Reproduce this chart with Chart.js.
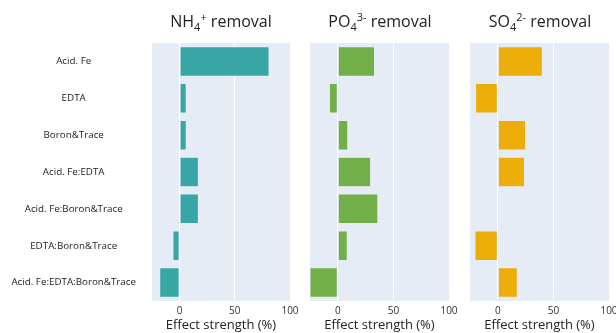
<!DOCTYPE html>
<html>
<head>
<meta charset="utf-8">
<script src="https://cdn.jsdelivr.net/npm/chart.js@4/dist/chart.umd.min.js"></script>
<style>
  body { margin: 0; width: 616px; height: 333px; overflow: hidden; background: #fff; position: relative; font-family: "Open Sans", sans-serif; }
  .panel { position: absolute; top: 0; }
  .title { position: absolute; top: 10px; font-size: 16px; color: #222; text-align: center; white-space: nowrap; transform: translateX(-50%); }
  .title sub, .title sup { font-size: 11px; line-height: 0; }
</style>
</head>
<body>
<div class="panel" style="left:0px"><canvas id="chart-nh4" width="300" height="345"></canvas></div>
<div class="panel" style="left:300px"><canvas id="chart-po4" width="160" height="345"></canvas></div>
<div class="panel" style="left:460px"><canvas id="chart-so4" width="170" height="345"></canvas></div>
<div class="title" style="left:221px">NH<sub>4</sub><sup>+</sup> removal</div>
<div class="title" style="left:380px">PO<sub>4</sub><sup>3-</sup> removal</div>
<div class="title" style="left:540px">SO<sub>4</sub><sup>2-</sup> removal</div>
<script>
const factors = ['Acid. Fe', 'EDTA', 'Boron&Trace', 'Acid. Fe:EDTA', 'Acid. Fe:Boron&Trace', 'EDTA:Boron&Trace', 'Acid. Fe:EDTA:Boron&Trace']
const nh4Effect = [81, 6, 6, 17, 17, -6, -18]
const po4Effect = [33, -7.5, 9, 29.5, 36, 8.5, -25]
const so4Effect = [40, -20, 25, 24, 1, -20.5, 17.5]
const xTicks = [0, 50, 100]
const xMin = -25
const xMax = 100
const axisTitle = 'Effect strength (%)'

const plotBg = {
    id: 'plotBg',
    beforeDraw(chart) {
        const { ctx, chartArea } = chart
        ctx.save()
        ctx.fillStyle = '#E5ECF6'
        ctx.fillRect(chartArea.left, chartArea.top, chartArea.right - chartArea.left, chartArea.bottom - chartArea.top)
        ctx.restore()
    }
}

function makePanel(id, values, color, showLabels, padLeft, padRight) {
    const ctx = document.getElementById(id).getContext('2d')
    return new Chart(ctx, {
        type: 'bar',
        data: {
            labels: factors,
            datasets: [{
                data: values,
                backgroundColor: color,
                borderColor: '#E5ECF6',
                borderWidth: 0.5,
                borderSkipped: false,
                barPercentage: 0.8,
                categoryPercentage: 1
            }]
        },
        options: {
            indexAxis: 'y',
            responsive: false,
            animation: false,
            layout: { padding: { top: 43, left: padLeft, right: padRight, bottom: 0 } },
            plugins: { legend: { display: false }, tooltip: { enabled: false } },
            scales: {
                x: {
                    min: xMin,
                    max: xMax,
                    afterBuildTicks: (scale) => { scale.ticks = xTicks.map(v => ({ value: v })) },
                    afterFit: (scale) => { scale.height = 44; scale.paddingLeft = 0; scale.paddingRight = 0 },
                    grid: { color: '#ffffff', lineWidth: 1, drawTicks: false },
                    border: { display: false },
                    ticks: { padding: 4, color: '#333', font: { family: 'Open Sans', size: 10 } },
                    title: { display: true, text: axisTitle, color: '#222', font: { family: 'Open Sans', size: 13 }, padding: { top: 0, bottom: 12 } }
                },
                y: {
                    display: showLabels,
                    afterFit: (scale) => { if (showLabels) scale.width = 152 },
                    grid: { display: false, drawTicks: false },
                    border: { display: false },
                    ticks: { crossAlign: 'center', padding: 16, color: '#222', font: { family: 'Open Sans', size: 9.8 } }
                }
            }
        },
        plugins: [plotBg]
    })
}

makePanel('chart-nh4', nh4Effect, '#38A6A5', true, 0, 10)
makePanel('chart-po4', po4Effect, '#73AF48', false, 10, 11)
makePanel('chart-so4', so4Effect, '#EDAD08', false, 10, 21)
</script>
</body>
</html>
